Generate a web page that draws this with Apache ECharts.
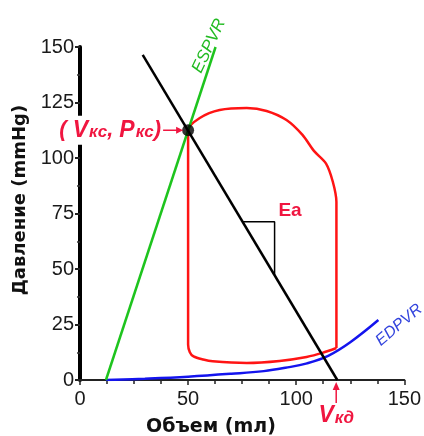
<!DOCTYPE html>
<html>
<head>
<meta charset="utf-8">
<script src="https://cdn.jsdelivr.net/npm/echarts@6.0.0/dist/echarts.min.js"></script>
<style>
  html, body { margin: 0; padding: 0; background: #fff; }
  #chart { width: 424px; height: 436px; }
</style>
</head>
<body>
<div id="chart"></div>
<script>
// Axis ticks
const volumeTicks = [0, 50, 100, 150];
const pressureTicks = [0, 25, 50, 75, 100, 125, 150];

// End-systolic pressure–volume relation (ESPVR)
const espvrVolume = [12, 62.7];
const espvrPressure = [0, 150];

// Arterial elastance line (Ea) and its slope triangle
const eaVolume = [29, 119];
const eaPressure = [146.5, 0];
const eaTriangleVolume = [75.2, 90, 90];
const eaTrianglePressure = [71.3, 71.3, 47.2];

// Pressure–volume loop (starts at end-diastole, counter-clockwise)
const loopVolume = [118.6, 118.6, 118.6, 116.9, 113.8, 108.2, 102.9, 95.5, 86.3, 77.1, 64.6, 55.4, 50,
                    50, 50, 50.8, 52.5, 57, 61.4, 77.1, 92.3, 104.8, 112.1, 118.6];
const loopPressure = [14.4, 50, 80.2, 89.4, 97.5, 103.2, 110.4, 117.1, 121.2, 122.5, 121.6, 118, 112.5,
                      60, 16, 12.5, 10.6, 9.2, 8.4, 7.7, 8.6, 10.4, 12.2, 14.4];

// End-diastolic pressure–volume relation (EDPVR)
const edpvrVolume = [12, 30, 50, 70, 85, 95, 105, 115, 125, 138];
const edpvrPressure = [0, 0.6, 1.5, 2.8, 4, 5.5, 7.5, 11, 17, 27];

// End-systolic point (Vкс, Pкс) and end-diastolic volume Vкд
const endSystolicVolume = 50;
const endSystolicPressure = 112.5;
const endDiastolicVolume = 118.5;

const pairs = (xs, ys) => xs.map((x, i) => [x, ys[i]]);

const TICK_FONT = '"Liberation Sans Narrow", "Liberation Sans", Arial, sans-serif';
const RED = '#ff1414';
const LABEL_RED = '#f01640';

const chart = echarts.init(document.getElementById('chart'), null, { renderer: 'canvas' });

chart.setOption({
  animation: false,
  backgroundColor: '#fff',
  grid: { left: 80, right: 19, top: 47, bottom: 56, containLabel: false },
  xAxis: {
    type: 'value',
    min: volumeTicks[0],
    max: volumeTicks[volumeTicks.length - 1],
    interval: volumeTicks[1] - volumeTicks[0],
    axisLine: { show: true, onZero: false, lineStyle: { color: '#222', width: 2 } },
    axisTick: { show: true, length: 5, lineStyle: { color: '#222', width: 1.5 } },
    minorTick: { show: true, splitNumber: 4, length: 4, lineStyle: { color: '#222', width: 1.5 } },
    splitLine: { show: false },
    minorSplitLine: { show: false },
    axisLabel: { color: '#1a1a1a', fontSize: 20, fontFamily: TICK_FONT, margin: 9 }
  },
  yAxis: {
    type: 'value',
    min: pressureTicks[0],
    max: pressureTicks[pressureTicks.length - 1],
    interval: pressureTicks[1] - pressureTicks[0],
    axisLine: { show: true, onZero: false, lineStyle: { color: '#000', width: 4 } },
    axisTick: { show: true, length: 5, lineStyle: { color: '#222', width: 2 } },
    minorTick: { show: true, splitNumber: 2, length: 3, lineStyle: { color: '#333', width: 1.5 } },
    splitLine: { show: false },
    minorSplitLine: { show: false },
    axisLabel: { color: '#1a1a1a', fontSize: 20, fontFamily: TICK_FONT, margin: 6 }
  },
  series: [
    {
      name: 'EDPVR', type: 'line', data: pairs(edpvrVolume, edpvrPressure),
      smooth: 0.4, showSymbol: false, symbol: 'none',
      lineStyle: { color: '#1414ee', width: 2.5 }, z: 3
    },
    {
      name: 'PV', type: 'line', data: pairs(loopVolume, loopPressure),
      smooth: 0.3, showSymbol: false, symbol: 'none',
      lineStyle: { color: RED, width: 2.5 }, z: 4
    },
    {
      name: 'ESPVR', type: 'line', data: pairs(espvrVolume, espvrPressure),
      showSymbol: false, symbol: 'none',
      lineStyle: { color: '#1ec41e', width: 2.5 }, z: 5
    },
    {
      name: 'Ea', type: 'line', data: pairs(eaVolume, eaPressure),
      showSymbol: false, symbol: 'none',
      lineStyle: { color: '#000', width: 2.5 }, z: 6
    },
    {
      name: 'Ea-triangle', type: 'line', data: pairs(eaTriangleVolume, eaTrianglePressure),
      showSymbol: false, symbol: 'none',
      lineStyle: { color: '#000', width: 1.5 }, z: 6
    },
    {
      name: 'ES', type: 'scatter', data: [[endSystolicVolume, endSystolicPressure]],
      symbol: 'circle', symbolSize: 12, itemStyle: { color: '#000' }, z: 7
    }
  ]
});

// Annotations placed relative to the axes
const px = (v, p) => chart.convertToPixel({ gridIndex: 0 }, [v, p]);
const es = px(endSystolicVolume, endSystolicPressure);
const ed = px(endDiastolicVolume, 0);

const text = (x, y, str, font, fill, rotationDeg) => ({
  type: 'text', x, y, rotation: (rotationDeg || 0) * Math.PI / 180, z: 100,
  style: { text: str, font, fill, align: 'center', verticalAlign: 'middle',
           textAlign: 'center', textVerticalAlign: 'middle' }
});

const LABEL_FONT = '"Liberation Sans", Arial, sans-serif';
const richRed = {
  p: { fontSize: 22, fontStyle: 'italic', fontWeight: 'bold', fontFamily: LABEL_FONT, fill: LABEL_RED, color: LABEL_RED },
  v: { fontSize: 23, fontStyle: 'italic', fontWeight: 'bold', fontFamily: LABEL_FONT, fill: LABEL_RED, color: LABEL_RED },
  s: { fontSize: 17, fontStyle: 'italic', fontWeight: 'bold', fontFamily: LABEL_FONT, fill: LABEL_RED, color: LABEL_RED, padding: [4, 0, 0, 1] }
};

chart.setOption({
  graphic: [
    // axis titles
    text(20, 200, 'Давление (mmHg)', 'bold 18px "DejaVu Sans", sans-serif', '#111', 90),
    text(211, 427, 'Объем (mл)', 'bold 19px "DejaVu Sans", sans-serif', '#111', 0),
    // curve names
    text(209, 46, 'ESPVR', 'italic 17px "Liberation Sans", Arial', '#22bb22', 65),
    text(399, 325, 'EDPVR', 'italic 16px "Liberation Sans", Arial', '#3344dd', 40),
    text(290, 211, 'Ea', 'bold 19px "Liberation Sans", Arial', LABEL_RED, 0),
    // (Vкс, Pкс) label with arrow to the end-systolic point
    {
      type: 'text', x: es[0] - 26, y: es[1], z: 100,
      style: {
        text: '{p|( }{v|V}{s|кс}{p|, }{v|P}{s|кс}{p|)}', rich: richRed,
        align: 'right', verticalAlign: 'middle', textAlign: 'right', textVerticalAlign: 'middle',
        backgroundColor: '#fff', padding: [3, 1, 3, 2]
      }
    },
    {
      type: 'line', z: 100,
      shape: { x1: es[0] - 25, y1: es[1], x2: es[0] - 10, y2: es[1] },
      style: { stroke: LABEL_RED, lineWidth: 1.5 }
    },
    {
      type: 'polygon', z: 100,
      shape: { points: [[es[0] - 5, es[1]], [es[0] - 12, es[1] - 3.5], [es[0] - 12, es[1] + 3.5]] },
      style: { fill: LABEL_RED }
    },
    // Vкд arrow and label
    {
      type: 'line', z: 100,
      shape: { x1: ed[0], y1: ed[1] + 23, x2: ed[0], y2: ed[1] + 8 },
      style: { stroke: LABEL_RED, lineWidth: 1.5 }
    },
    {
      type: 'polygon', z: 100,
      shape: { points: [[ed[0], ed[1] + 2], [ed[0] - 3.5, ed[1] + 10], [ed[0] + 3.5, ed[1] + 10]] },
      style: { fill: LABEL_RED }
    },
    {
      type: 'text', x: ed[0], y: ed[1] + 36, z: 100,
      style: {
        text: '{v|V}{s|кд}', rich: richRed,
        align: 'center', verticalAlign: 'middle', textAlign: 'center', textVerticalAlign: 'middle'
      }
    }
  ]
});
</script>
</body>
</html>
